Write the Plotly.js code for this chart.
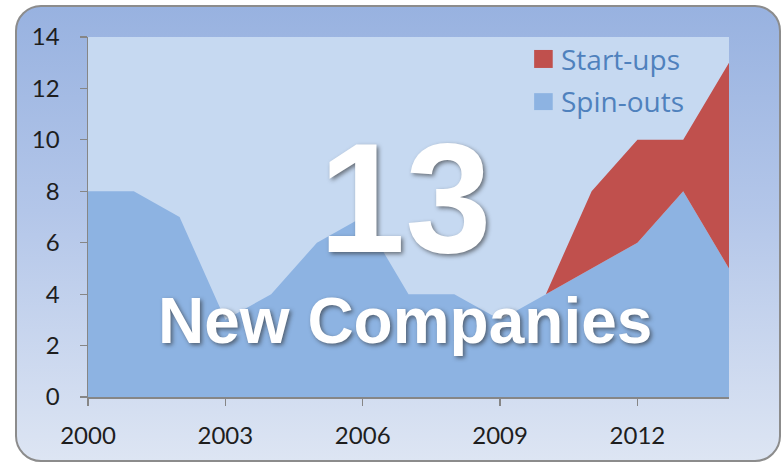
<!DOCTYPE html>
<html>
<head>
<meta charset="utf-8">
<script src="https://cdn.plot.ly/plotly-3.0.1.min.js"></script>
<style>
  html, body { margin: 0; padding: 0; background: #ffffff; }
  #wrap { position: relative; width: 783px; height: 464px; overflow: hidden; }
  #frame {
    position: absolute; left: 15px; top: 5px; width: 766px; height: 457px;
    box-sizing: border-box; border: 2px solid #8c8c8c; border-radius: 26px;
    background: linear-gradient(to bottom, #98b2e0 0%, #b3c6e9 45%, #dde5f3 100%);
  }
  #chart { position: absolute; left: 0; top: 0; width: 783px; height: 464px; }
</style>
</head>
<body>
<div id="wrap">
  <div id="frame"></div>
  <div id="chart"></div>
</div>
<script>
const years = [2000, 2001, 2002, 2003, 2004, 2005, 2006, 2007, 2008, 2009, 2010, 2011, 2012, 2013, 2014];
const spinOuts = [8, 8, 7, 3, 4, 6, 7, 4, 4, 3, 4, 5, 6, 8, 5];
const startUps = [0, 0, 0, 0, 0, 0, 0, 0, 0, 0, 0, 3, 4, 2, 8];
const seriesNames = ['Spin-outs', 'Start-ups'];
const seriesColors = ['#8db3e2', '#c0504d'];
const xTicks = [2000, 2003, 2006, 2009, 2012];
const yTicks = [0, 2, 4, 6, 8, 10, 12, 14];
const bigNumber = '13';
const bigLabel = 'New Companies';

const traces = [
  { x: years, y: spinOuts, name: seriesNames[0], type: 'scatter', mode: 'lines',
    stackgroup: 'one', line: { width: 0, color: seriesColors[0] }, fillcolor: seriesColors[0],
    hoverinfo: 'skip', showlegend: false },
  { x: years, y: startUps, name: seriesNames[1], type: 'scatter', mode: 'lines',
    stackgroup: 'one', line: { width: 0, color: seriesColors[1] }, fillcolor: seriesColors[1],
    hoverinfo: 'skip', showlegend: false }
];

const axisColor = '#868686';
const tickFont = { family: 'Lato, sans-serif', size: 24, color: '#1e1e1e' };
const bigFont = 'Liberation Sans, Arial, Helvetica, sans-serif';
const bigShadow = '2px 2px 4px rgba(40,40,40,0.6)';

// legend drawn as squares + labels (Start-ups on top)
const legendItems = [
  { name: seriesNames[1], color: seriesColors[1], y0: 0.914, y1: 0.964, ty: 0.939 },
  { name: seriesNames[0], color: seriesColors[0], y0: 0.797, y1: 0.844, ty: 0.822 }
];
const shapes = legendItems.map(it => ({
  type: 'rect', xref: 'paper', yref: 'paper', x0: 0.696, x1: 0.725, y0: it.y0, y1: it.y1,
  fillcolor: it.color, line: { width: 0 }
}));
const annotations = legendItems.map(it => ({
  xref: 'paper', yref: 'paper', x: 0.735, y: it.ty, xanchor: 'left', yanchor: 'middle',
  text: it.name, showarrow: false,
  font: { family: 'Open Sans, sans-serif', size: 28, color: '#4f81bd' }
}));
annotations.push({
  xref: 'paper', yref: 'paper', x: 0.4945, y: 0.552, xanchor: 'center', yanchor: 'middle',
  text: bigNumber, showarrow: false,
  font: { family: bigFont, weight: 'bold', size: 155, color: '#ffffff', shadow: bigShadow }
});
annotations.push({
  xref: 'paper', yref: 'paper', x: 0.494, y: 0.212, xanchor: 'center', yanchor: 'middle',
  text: bigLabel, showarrow: false,
  font: { family: bigFont, weight: 'bold', size: 64, color: '#ffffff', shadow: bigShadow }
});

const layout = {
  width: 783, height: 464,
  margin: { l: 88, r: 54, t: 37, b: 67, pad: 0 },
  paper_bgcolor: 'rgba(0,0,0,0)',
  plot_bgcolor: '#c6d9f1',
  showlegend: false,
  xaxis: {
    range: [2000, 2014], tickvals: xTicks, ticktext: xTicks.map(String),
    showgrid: false, zeroline: false, showline: true, linecolor: axisColor, linewidth: 1.5,
    ticks: 'outside', ticklen: 7, tickcolor: axisColor, tickwidth: 1.2,
    tickfont: tickFont, ticklabelstandoff: 10, fixedrange: true
  },
  yaxis: {
    range: [0, 14], tickvals: yTicks, ticktext: yTicks.map(String),
    showgrid: false, zeroline: false, showline: true, linecolor: axisColor, linewidth: 1.5,
    ticks: 'outside', ticklen: 7, tickcolor: axisColor, tickwidth: 1.2,
    tickfont: tickFont, ticklabelstandoff: 15, fixedrange: true
  },
  shapes: shapes,
  annotations: annotations
};

Plotly.newPlot('chart', traces, layout, { displayModeBar: false, staticPlot: true });
</script>
</body>
</html>
